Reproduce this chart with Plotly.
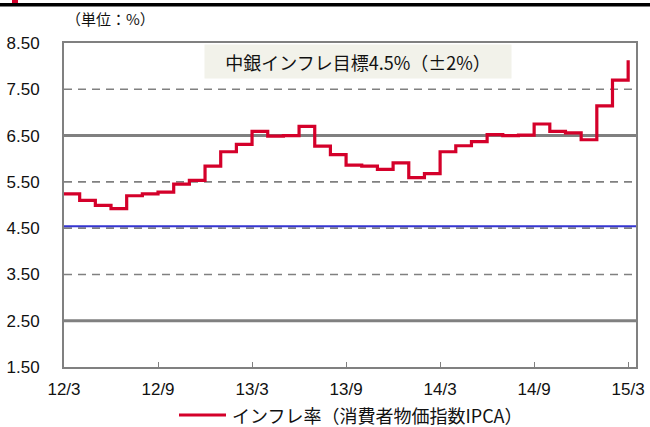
import plotly.graph_objects as go

# ---- data ----
months = ["12/3","12/4","12/5","12/6","12/7","12/8","12/9","12/10","12/11","12/12",
          "13/1","13/2","13/3","13/4","13/5","13/6","13/7","13/8","13/9","13/10","13/11","13/12",
          "14/1","14/2","14/3","14/4","14/5","14/6","14/7","14/8","14/9","14/10","14/11","14/12",
          "15/1","15/2","15/3"]
inflation = [5.24,5.10,4.99,4.92,5.20,5.24,5.28,5.45,5.53,5.84,
             6.15,6.31,6.59,6.49,6.50,6.70,6.27,6.09,5.86,5.84,5.77,5.91,
             5.59,5.68,6.15,6.28,6.37,6.52,6.50,6.51,6.75,6.59,6.56,6.41,
             7.14,7.70,8.13]
tick_months = ["12/3","12/9","13/3","13/9","14/3","14/9","15/3"]
tick_labels = ["12/3","12/9","13/3","13/9","14/3","14/9","15/3"]
y_ticks = [1.5,2.5,3.5,4.5,5.5,6.5,7.5,8.5]
solid_levels = [2.5, 6.5]
dashed_levels = [3.5, 4.5, 5.5, 7.5]
target = 4.5

series_name = "インフレ率（消費者物価指数IPCA）"
box_text = "中銀インフレ目標4.5%（±2%）"
unit_text = "（単位：%）"

RED = "#d4002a"
GRAY = "#808080"

x_idx = list(range(len(months)))
tickvals = [months.index(m) for m in tick_months]

fig = go.Figure()
fig.add_trace(go.Scatter(x=x_idx, y=inflation, mode="lines", line_shape="hv",
                         line=dict(color=RED, width=3.2), name=series_name,
                         showlegend=False, hoverinfo="skip"))

def px_x(q):
    return (q - 64) / 572

def px_y(p):
    return (367 - p) / 324

shapes = []
for lv in dashed_levels:
    shapes.append(dict(type="line", xref="paper", x0=0, x1=1, yref="y", y0=lv, y1=lv,
                       line=dict(color=GRAY, width=1.6, dash="8px,6px"), layer="below"))
for lv in solid_levels:
    shapes.append(dict(type="line", xref="paper", x0=0, x1=1, yref="y", y0=lv, y1=lv,
                       line=dict(color=GRAY, width=3), layer="below"))
shapes.append(dict(type="line", xref="paper", x0=0, x1=1, yref="y", y0=target + 0.04, y1=target + 0.04,
                   line=dict(color="#3535d0", width=2), layer="below"))
# header bar (cropped title area)
shapes.append(dict(type="rect", xref="paper", yref="paper", x0=px_x(0), x1=px_x(650),
                   y0=px_y(6.5), y1=px_y(3), fillcolor="black", line=dict(width=0)))
shapes.append(dict(type="rect", xref="paper", yref="paper", x0=px_x(12), x1=px_x(18),
                   y0=px_y(3), y1=px_y(0), fillcolor=RED, line=dict(width=0)))
# legend line
shapes.append(dict(type="line", xref="paper", yref="paper", x0=px_x(179), x1=px_x(226),
                   y0=px_y(415), y1=px_y(415), line=dict(color=RED, width=3)))

annotations = [
    dict(text=box_text, xref="paper", yref="paper", x=px_x(358), y=px_y(61),
         xanchor="center", yanchor="middle",
         showarrow=False, font=dict(size=18, color="#111111", family="Noto Sans CJK JP"),
         bgcolor="#f2f2ea", width=306, height=33, borderpad=0),
    dict(text=unit_text, xref="paper", yref="paper", x=px_x(110), y=px_y(18),
         xanchor="center", yanchor="middle", showarrow=False,
         font=dict(size=15, color="#111111", family="Noto Sans CJK JP")),
    dict(text=series_name, xref="paper", yref="paper", x=px_x(230), y=px_y(415),
         xanchor="left", yanchor="middle", showarrow=False,
         font=dict(size=18, color="#111111", family="Noto Sans CJK JP")),
]

fig.update_layout(
    width=650, height=427,
    margin=dict(l=64, r=14, t=43, b=60),
    paper_bgcolor="white", plot_bgcolor="white",
    shapes=shapes, annotations=annotations,
    xaxis=dict(range=[0, 36.5], tickvals=tickvals, ticktext=tick_labels,
               showgrid=False, zeroline=False, showline=True, mirror=True,
               linecolor=GRAY, linewidth=2, ticks="inside", ticklen=5,
               tickcolor=GRAY, tickwidth=1, ticklabelstandoff=6, automargin=False,
               tickfont=dict(size=17, color="#111111", family="Liberation Sans")),
    yaxis=dict(range=[1.5, 8.5], tickvals=y_ticks, tickformat=".2f",
               showgrid=False, zeroline=False, showline=True, mirror=True,
               linecolor=GRAY, linewidth=2, ticks="", ticklabelstandoff=19, automargin=False,
               tickfont=dict(size=17, color="#111111", family="Liberation Sans")),
)

fig.write_html("out.html", config={"displayModeBar": False},
               post_script="document.body.style.margin='0';document.body.style.overflow='hidden';")
